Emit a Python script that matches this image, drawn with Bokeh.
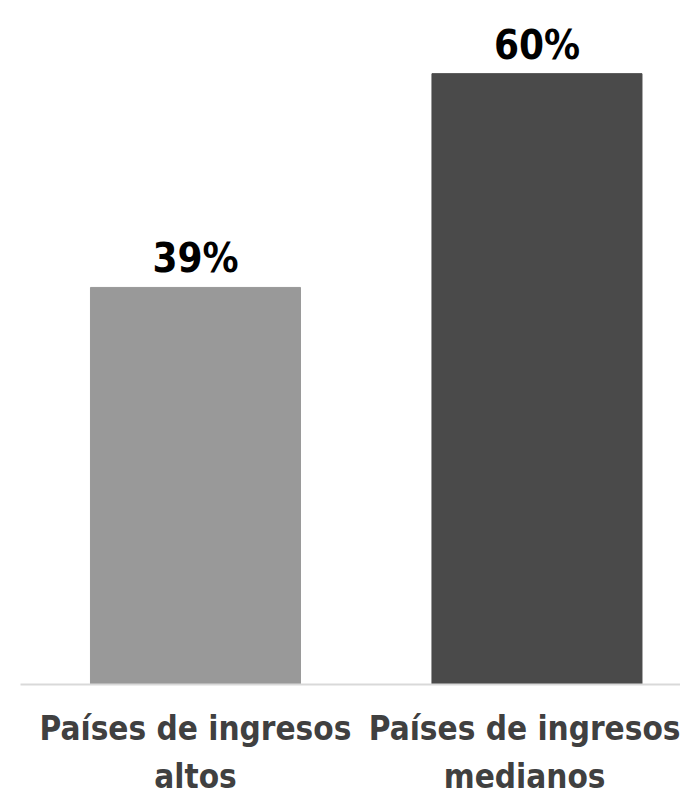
from bokeh.plotting import figure
from bokeh.models import ColumnDataSource, LabelSet, Range1d, FixedTicker
from bokeh.core.properties import value
from bokeh.embed import file_html
from bokeh.resources import INLINE

categories = ["Países de ingresos\naltos", "Países de ingresos\nmedianos"]
values = [39, 60]
value_labels = ["39%", "60%"]
colors = ["#999999", "#4a4a4a"]

FONT = "'DejaVu Sans Condensed', 'Liberation Sans Narrow', Roboto, sans-serif"

xs = list(range(len(categories)))
src = ColumnDataSource(dict(
    x=xs,
    top=values,
    color=colors,
    lab=value_labels,
))

p = figure(frame_width=660, frame_height=676, output_backend="svg", toolbar_location=None,
           x_range=Range1d(-0.5124, 1.4203), y_range=Range1d(0, 66.4),
           min_border_left=20, min_border_right=0, min_border_top=8,
           min_border_bottom=0)
p.vbar(x="x", top="top", width=0.615, color="color", source=src)

p.xgrid.visible = False
p.ygrid.visible = False
p.yaxis.visible = False
p.outline_line_color = None
p.xaxis.ticker = FixedTicker(ticks=xs)
p.xaxis.major_label_overrides = {x: c for x, c in zip(xs, categories)}
p.xaxis.axis_line_color = "#d9d9d9"
p.xaxis.axis_line_width = 2
p.xaxis.major_tick_line_color = None
p.xaxis.minor_tick_line_color = None
p.xaxis.major_label_text_font = FONT
p.xaxis.major_label_text_font_style = "bold"
p.xaxis.major_label_text_font_size = "33px"
p.xaxis.major_label_text_color = "#404040"
p.xaxis.major_label_text_line_height = 1.25
p.xaxis.major_label_standoff = 18

p.add_layout(LabelSet(x="x", y="top", text="lab", source=src, text_align="center",
                      text_baseline="alphabetic", y_offset=15,
                      text_font=value(FONT), text_font_style="bold",
                      text_font_size="40px", text_color="#000000"))

open("out.html", "w").write(file_html(p, INLINE))
